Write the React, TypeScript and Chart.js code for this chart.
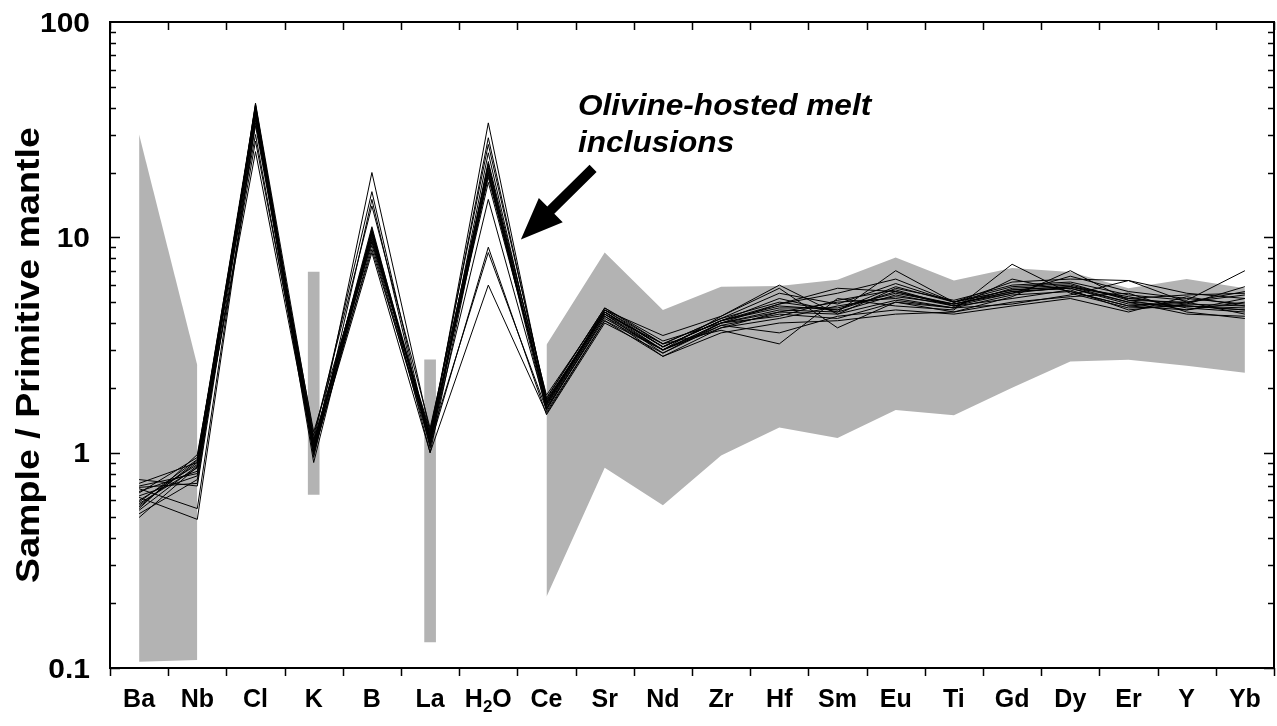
import React, { useEffect, useRef } from "react";
import { Chart, registerables } from "chart.js";
Chart.register(...registerables);

const elements = ["Ba","Nb","Cl","K","B","La","H2O","Ce","Sr","Nd","Zr","Hf","Sm","Eu","Ti","Gd","Dy","Er","Y","Yb"];
const yTickValues = [0.1, 1, 10, 100];
const yTickLabels = ["0.1", "1", "10", "100"];

const bandUpper = [30, 2.55, null, null, null, null, null, 3.17, 8.5, 4.6, 5.9, 5.95, 6.35, 8.05, 6.3, 7.2, 6.9, 5.8, 6.4, 5.8];
const bandLower = [0.107, 0.109, null, null, null, null, null, 0.214, 0.85, 0.57, 0.97, 1.31, 1.17, 1.58, 1.49, 2.0, 2.65, 2.7, 2.53, 2.35];
const barRanges = [null, null, null, [0.64, 6.9], null, [0.132, 2.7], null, null, null, null, null, null, null, null, null, null, null, null, null, null];

// Ba, Nb, Cl, K, B, La, H2O, Ce, Sr, Nd, Zr, Hf, Sm, Eu, Ti, Gd, Dy, Er, Y, Yb
const s1 = [0.56, 0.92, 41, 1.05, 10.5, 1.15, 34, 1.7, 4.6, 3.1, 4.1, 4.8, 4.6, 5.6, 4.9, 5.6, 5.8, 5.0, 4.8, 4.6];
const s2 = [0.60, 0.88, 40, 1.10, 10.8, 1.20, 29, 1.75, 4.5, 3.0, 4.0, 4.6, 4.5, 5.4, 4.8, 5.8, 6.0, 5.2, 4.9, 4.8];
const s3 = [0.65, 0.95, 39, 1.00, 20, 1.25, 27, 1.8, 4.7, 3.2, 4.2, 5.5, 4.9, 6.1, 5.0, 6.2, 6.4, 6.3, 5.5, 5.2];
const s4 = [0.70, 0.80, 38, 1.15, 16.3, 1.10, 24.7, 1.65, 4.4, 2.9, 3.9, 4.4, 4.2, 5.0, 4.7, 5.4, 5.6, 4.8, 5.0, 5.4];
const s5 = [0.58, 0.85, 37, 0.95, 15, 1.05, 22, 1.6, 4.3, 2.8, 3.8, 4.2, 4.8, 5.3, 4.9, 5.5, 5.9, 5.3, 4.7, 4.5];
const s6 = [0.52, 0.75, 42, 1.20, 14, 1.30, 21, 1.85, 4.6, 3.5, 4.3, 6.0, 4.4, 5.8, 5.1, 6.0, 6.2, 5.4, 5.1, 7.0];
const s7 = [0.75, 0.70, 36, 0.90, 11, 1.00, 20, 1.55, 4.1, 3.0, 4.0, 4.9, 5.8, 5.6, 4.8, 5.2, 5.7, 4.6, 4.9, 5.9];
const s8 = [0.68, 0.55, 35, 1.05, 10.2, 1.18, 19, 1.7, 4.5, 3.1, 4.1, 5.2, 4.5, 7.0, 5.0, 5.7, 5.9, 5.0, 4.4, 4.3];
const s9 = [0.62, 0.49, 34, 1.25, 9.8, 1.22, 18, 1.75, 4.4, 3.2, 3.7, 3.2, 5.2, 4.8, 4.6, 7.5, 5.5, 4.7, 4.8, 4.6];
const s10 = [0.72, 0.90, 33, 1.10, 9.5, 1.12, 15, 1.6, 4.2, 3.0, 4.3, 5.8, 3.8, 5.0, 4.5, 5.3, 7.0, 5.1, 4.6, 5.0];
const s11 = [0.55, 0.98, 30, 1.00, 9.2, 1.08, 9, 1.5, 4.0, 2.9, 4.0, 4.5, 5.0, 5.2, 4.7, 4.9, 5.4, 6.3, 5.0, 4.4];
const s12 = [0.66, 0.82, 28, 1.08, 8.8, 1.14, 8.5, 1.58, 4.3, 3.0, 3.9, 3.6, 4.3, 4.6, 4.4, 4.8, 5.2, 4.5, 5.3, 4.8];
const s13 = [0.50, 0.86, 25, 1.02, 8.5, 1.00, 6, 1.52, 4.1, 2.8, 3.6, 4.0, 4.1, 4.4, 4.5, 5.0, 5.3, 5.5, 4.5, 4.2];
const s14 = [0.57, 0.90, 39.5, 1.12, 10.6, 1.16, 20.5, 1.68, 4.5, 3.1, 4.1, 4.7, 4.7, 5.5, 4.9, 5.6, 5.8, 4.9, 4.8, 4.7];
const s15 = [0.63, 0.78, 38.5, 0.98, 10.0, 1.20, 19.5, 1.72, 4.6, 3.2, 4.2, 5.0, 4.6, 5.9, 5.0, 5.9, 6.1, 5.1, 5.0, 5.6];
const s16 = [0.59, 0.93, 37.5, 1.06, 11.2, 1.10, 22.5, 1.78, 4.7, 3.3, 4.0, 4.3, 5.1, 5.7, 4.8, 5.5, 6.6, 5.6, 5.2, 4.9];
const s17 = [0.54, 0.87, 36.5, 1.14, 9.6, 1.26, 21.5, 1.62, 4.4, 3.0, 3.8, 4.5, 4.4, 5.1, 4.7, 6.4, 5.6, 4.8, 4.6, 5.2];
const s18 = [0.69, 0.72, 41.5, 1.03, 10.4, 1.13, 20, 1.66, 4.5, 3.1, 4.1, 4.9, 5.5, 6.4, 5.0, 5.7, 5.9, 5.2, 5.4, 5.5];
const samples = [s1, s2, s3, s4, s5, s6, s7, s8, s9, s10, s11, s12, s13, s14, s15, s16, s17, s18];

const annotationLines = ["Olivine-hosted melt", "inclusions"];
const annotationAnchor = { x: 7.54, y: 37 };
const arrowTail = { x: 7.8, y: 20.9 };
const arrowTip = { x: 6.56, y: 9.76 };

const GRAY = "#b3b3b3";
const FONT = "'Liberation Sans', Arial, Helvetica, sans-serif";

function stretchedText(ctx: any, text: string, x: number, y: number, sx: number, align: string) {
  const w = ctx.measureText(text).width * sx;
  let left = x;
  if (align === "center") left = x - w / 2;
  else if (align === "right") left = x - w;
  ctx.save();
  ctx.translate(left, y);
  ctx.scale(sx, 1);
  ctx.textAlign = "left";
  ctx.fillText(text, 0, 0);
  ctx.restore();
}

const overlayPlugin = {
  id: "overlay",
  afterDraw(chart: any) {
    const { ctx, chartArea: a, scales } = chart;
    const xs = scales.x;
    const ys = scales.y;
    ctx.save();
    ctx.strokeStyle = "#000";
    ctx.fillStyle = "#000";
    // frame
    ctx.lineWidth = 2;
    ctx.strokeRect(a.left, a.top, a.right - a.left, a.bottom - a.top);
    // y ticks (inward, both sides)
    ctx.lineWidth = 1.5;
    for (let d = -1; d <= 1; d++) {
      for (let m = 1; m <= 9; m++) {
        const v = m * Math.pow(10, d);
        const py = Math.round(ys.getPixelForValue(v)) + 0.5;
        const len = m === 1 ? 10 : 6;
        ctx.beginPath();
        ctx.moveTo(a.left, py);
        ctx.lineTo(a.left + len, py);
        ctx.moveTo(a.right, py);
        ctx.lineTo(a.right - len, py);
        ctx.stroke();
      }
    }
    // x ticks at category boundaries
    const step = xs.getPixelForValue(1) - xs.getPixelForValue(0);
    for (let i = 0; i <= elements.length; i++) {
      const px = Math.round(xs.getPixelForValue(i) - step / 2) + 0.5;
      ctx.beginPath();
      ctx.moveTo(px, a.bottom);
      ctx.lineTo(px, a.bottom + 8);
      ctx.moveTo(px, a.top);
      ctx.lineTo(px, a.top + 8);
      ctx.stroke();
    }
    // y tick labels
    ctx.font = `bold 28px ${FONT}`;
    ctx.textBaseline = "middle";
    yTickValues.forEach((v, i) => {
      stretchedText(ctx, yTickLabels[i], a.left - 20, ys.getPixelForValue(v) + 2, 1.07, "right");
    });
    // x labels
    const big = `bold 25px ${FONT}`;
    const small = `bold 17px ${FONT}`;
    ctx.textBaseline = "alphabetic";
    elements.forEach((lab, i) => {
      const cx = xs.getPixelForValue(i);
      const by = a.bottom + 39;
      if (lab === "H2O") {
        ctx.font = big;
        const wH = ctx.measureText("H").width;
        const wO = ctx.measureText("O").width;
        ctx.font = small;
        const w2 = ctx.measureText("2").width;
        const sx = cx - (wH + w2 + wO) / 2;
        ctx.textAlign = "left";
        ctx.font = big;
        ctx.fillText("H", sx, by);
        ctx.font = small;
        ctx.fillText("2", sx + wH, by + 5);
        ctx.font = big;
        ctx.fillText("O", sx + wH + w2, by);
      } else {
        ctx.font = big;
        ctx.textAlign = "center";
        ctx.fillText(lab, cx, by);
      }
    });
    // y title
    ctx.save();
    ctx.translate(30, 355);
    ctx.rotate(-Math.PI / 2);
    ctx.font = `bold 33px ${FONT}`;
    ctx.textBaseline = "middle";
    stretchedText(ctx, "Sample / Primitive mantle", 0, 0, 1.14, "center");
    ctx.restore();
    // annotation text
    ctx.font = `italic bold 29px ${FONT}`;
    ctx.textBaseline = "alphabetic";
    const tx = xs.getPixelForValue(annotationAnchor.x);
    const ty = ys.getPixelForValue(annotationAnchor.y);
    annotationLines.forEach((t, i) => stretchedText(ctx, t, tx, ty + i * 37, 1.09, "left"));
    // arrow
    const x0 = xs.getPixelForValue(arrowTail.x), y0 = ys.getPixelForValue(arrowTail.y);
    const x1 = xs.getPixelForValue(arrowTip.x), y1 = ys.getPixelForValue(arrowTip.y);
    const dx = x1 - x0, dy = y1 - y0;
    const L = Math.hypot(dx, dy);
    const ux = dx / L, uy = dy / L;
    const nx = -uy, ny = ux;
    const headL = 42, headW = 17, shaftW = 5;
    const bx = x1 - ux * headL, by2 = y1 - uy * headL;
    ctx.beginPath();
    ctx.moveTo(x0 + nx * shaftW, y0 + ny * shaftW);
    ctx.lineTo(bx + nx * shaftW, by2 + ny * shaftW);
    ctx.lineTo(bx + nx * headW, by2 + ny * headW);
    ctx.lineTo(x1, y1);
    ctx.lineTo(bx - nx * headW, by2 - ny * headW);
    ctx.lineTo(bx - nx * shaftW, by2 - ny * shaftW);
    ctx.lineTo(x0 - nx * shaftW, y0 - ny * shaftW);
    ctx.closePath();
    ctx.fill();
    ctx.restore();
  },
};

export default function App() {
  const ref = useRef<HTMLCanvasElement | null>(null);
  useEffect(() => {
    document.body.style.margin = "0";
    const canvas = ref.current;
    if (!canvas) return;
    const datasets: any[] = [
      {
        type: "line",
        data: bandUpper,
        borderColor: "rgba(0,0,0,0)",
        borderWidth: 0,
        pointRadius: 0,
        fill: false,
        spanGaps: false,
        order: 30,
      },
      {
        type: "line",
        data: bandLower,
        borderColor: "rgba(0,0,0,0)",
        borderWidth: 0,
        pointRadius: 0,
        backgroundColor: GRAY,
        fill: "-1",
        spanGaps: false,
        order: 29,
      },
      {
        type: "bar",
        data: barRanges,
        backgroundColor: GRAY,
        borderWidth: 0,
        barThickness: 11,
        order: 28,
      },
      ...samples.map((s) => ({
        type: "line",
        data: s,
        borderColor: "#000",
        borderWidth: 1,
        pointRadius: 0,
        fill: false,
        tension: 0,
        order: 1,
      })),
    ];
    const chart = new Chart(canvas, {
      type: "line",
      data: { labels: elements, datasets },
      options: {
        animation: false,
        responsive: false,
        maintainAspectRatio: false,
        devicePixelRatio: 1,
        layout: { padding: { left: 110, right: 3, top: 22, bottom: 58 } },
        plugins: { legend: { display: false }, tooltip: { enabled: false } },
        scales: {
          x: { type: "category", offset: true, display: false },
          y: { type: "logarithmic", min: 0.1, max: 100, display: false },
        },
      },
      plugins: [overlayPlugin],
    } as any);
    return () => chart.destroy();
  }, []);
  return (
    <div style={{ width: 1277, height: 726 }}>
      <canvas ref={ref} width={1277} height={726} />
    </div>
  );
}
